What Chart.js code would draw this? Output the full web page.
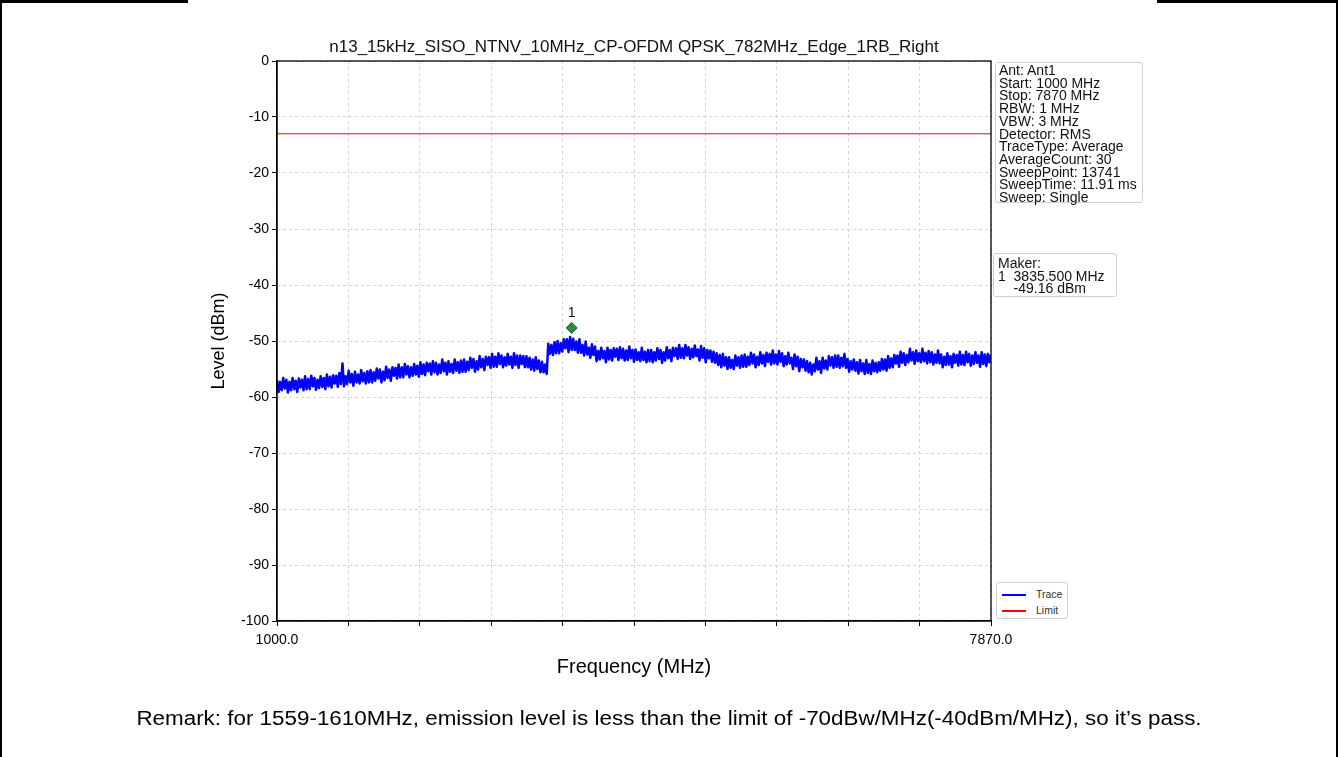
<!DOCTYPE html>
<html><head><meta charset="utf-8">
<script src="https://cdn.jsdelivr.net/npm/chart.js@4.4.0/dist/chart.umd.min.js"></script>
<style>
html,body{margin:0;padding:0;background:#fff;width:1338px;height:757px;overflow:hidden;font-family:"Liberation Sans",Arial,sans-serif;}
#wrap{position:relative;width:1338px;height:757px;}
#c{position:absolute;left:0;top:0;}
.bline{position:absolute;background:#000;}
.box{position:absolute;background:#fff;border:1px solid #cfcfcf;border-radius:3px;box-sizing:border-box;color:#111;}
#info{left:995px;top:62px;width:148px;height:141px;padding:1px 0 0 3px;font-size:14px;line-height:12.7px;}
#maker{left:993px;top:253px;width:124px;height:44px;padding:3px 0 0 4px;font-size:14px;line-height:12.7px;white-space:pre;}
#legend{left:996px;top:582px;width:72px;height:37px;font-size:10.5px;}
#legend .it{position:absolute;left:0;height:14px;}
#legend .ln{position:absolute;left:5px;width:24px;}
#legend .tx{position:absolute;left:39px;top:-6px;line-height:12px;color:#333;}
#remark{position:absolute;left:0;width:1338px;top:707px;text-align:center;font-size:20px;color:#000;transform:scaleX(1.12);transform-origin:669px 0;white-space:nowrap;}
</style></head>
<body><div id="wrap">
<canvas id="c" width="1338" height="757"></canvas>
<div class="bline" style="left:0;top:0;width:188px;height:3px"></div>
<div class="bline" style="left:1157px;top:0;width:181px;height:3px"></div>
<div class="bline" style="left:0;top:0;width:2px;height:757px"></div>
<div class="bline" style="left:1336px;top:0;width:2px;height:757px"></div>
<div class="box" id="info">Ant: Ant1<br>Start: 1000 MHz<br>Stop: 7870 MHz<br>RBW: 1 MHz<br>VBW: 3 MHz<br>Detector: RMS<br>TraceType: Average<br>AverageCount: 30<br>SweepPoint: 13741<br>SweepTime: 11.91 ms<br>Sweep: Single</div>
<div class="box" id="maker">Maker:
1  3835.500 MHz
    -49.16 dBm</div>
<div class="box" id="legend">
  <div class="it" style="top:11px"><div class="ln" style="top:0;height:2px;background:#0000ff"></div><div class="tx">Trace</div></div>
  <div class="it" style="top:27px"><div class="ln" style="top:0;height:1.5px;background:#ff0000"></div><div class="tx">Limit</div></div>
</div>
<div id="remark">Remark: for 1559-1610MHz, emission level is less than the limit of -70dBw/MHz(-40dBm/MHz), so it’s pass.</div>
</div>
<script>
// ---- data ----
const chartTitle = 'n13_15kHz_SISO_NTNV_10MHz_CP-OFDM QPSK_782MHz_Edge_1RB_Right';
const traceStartMHz = 1000;
const traceStepMHz = 15;
const traceLevels = [
 -56.9,-59.1,-57.3,-58.8,-56.6,-58.5,-56.9,-59.2,-57.3,-58.8,
 -56.6,-58.6,-57.1,-59.1,-56.7,-58.3,-56.9,-58.8,-56.3,-58.6,
 -56.8,-58.6,-56.2,-58.1,-56.6,-58.7,-56.9,-58.4,-56.3,-58.2,
 -56.6,-58.6,-56.0,-58.1,-56.4,-58.3,-56.1,-57.6,-56.2,-58.2,
 -55.7,-57.7,-54.0,-58.1,-56.3,-57.7,-55.3,-57.4,-55.9,-58.0,
 -55.5,-57.4,-56.0,-57.6,-55.2,-57.2,-55.7,-57.6,-55.4,-57.4,
 -55.2,-57.4,-55.6,-57.1,-54.9,-56.7,-55.1,-57.4,-55.5,-57.0,
 -54.6,-56.6,-55.1,-57.1,-54.7,-56.2,-54.8,-56.7,-54.2,-56.5,
 -54.7,-56.5,-54.1,-56.0,-54.5,-56.5,-54.7,-56.2,-54.1,-56.0,
 -54.4,-56.4,-53.8,-55.9,-54.2,-56.1,-53.9,-55.4,-54.0,-56.0,
 -53.6,-55.6,-53.9,-56.0,-54.2,-55.7,-53.3,-55.4,-53.9,-56.0,
 -53.6,-55.5,-54.1,-55.7,-53.3,-55.3,-53.8,-55.7,-53.5,-55.5,
 -53.3,-55.5,-53.7,-55.2,-53.0,-54.8,-53.2,-55.5,-53.6,-55.1,
 -52.7,-54.7,-53.2,-55.2,-52.8,-54.3,-52.9,-54.8,-52.3,-54.6,
 -52.8,-54.6,-52.2,-54.1,-52.6,-54.7,-52.9,-54.4,-52.3,-54.2,
 -52.8,-54.8,-52.2,-54.3,-52.6,-54.8,-52.6,-54.1,-52.7,-54.7,
 -52.7,-54.7,-53.0,-55.1,-53.3,-55.3,-52.9,-55.0,-53.5,-55.6,
 -53.7,-55.6,-54.2,-55.9,-50.5,-52.3,-50.7,-52.5,-50.2,-52.2,
 -50.0,-52.2,-50.4,-51.9,-49.7,-51.3,-49.7,-52.0,-49.3,-51.6,
 -49.6,-51.6,-50.1,-52.1,-49.7,-52.1,-50.7,-52.6,-50.1,-52.4,
 -51.2,-53.0,-50.6,-52.5,-51.0,-53.6,-51.8,-53.3,-51.2,-53.1,
 -51.8,-53.8,-51.2,-53.3,-51.6,-53.5,-51.3,-52.8,-51.4,-53.4,
 -51.1,-53.1,-51.4,-53.5,-51.7,-53.4,-51.0,-53.1,-51.6,-53.7,
 -51.5,-53.4,-52.0,-53.6,-51.2,-53.4,-51.9,-53.8,-51.6,-53.6,
 -51.6,-53.8,-52.0,-53.5,-51.3,-53.2,-51.6,-53.9,-52.0,-53.5,
 -51.1,-53.1,-51.6,-53.6,-51.2,-52.7,-51.3,-53.2,-50.7,-53.0,
 -51.3,-53.1,-50.7,-52.6,-51.1,-53.2,-51.4,-52.9,-50.8,-52.7,
 -51.5,-53.5,-50.9,-53.0,-51.3,-53.8,-51.6,-53.1,-51.7,-53.7,
 -51.9,-53.9,-52.2,-54.3,-52.5,-54.7,-52.3,-54.4,-52.9,-55.0,
 -52.9,-54.8,-53.4,-55.0,-52.6,-54.4,-52.9,-54.8,-52.6,-54.6,
 -52.4,-54.6,-52.8,-54.3,-52.1,-54.0,-52.4,-54.7,-52.8,-54.3,
 -52.0,-54.0,-52.5,-54.5,-52.1,-53.7,-52.3,-54.2,-51.7,-54.0,
 -52.4,-54.2,-51.8,-53.7,-52.2,-54.5,-52.7,-54.2,-52.1,-54.0,
 -53.0,-55.0,-52.4,-54.5,-52.8,-55.4,-53.2,-54.7,-53.3,-55.3,
 -53.6,-55.6,-53.9,-56.0,-54.2,-55.4,-53.0,-55.1,-53.6,-55.7,
 -53.0,-54.9,-53.5,-55.1,-52.7,-54.4,-52.9,-54.8,-52.6,-54.6,
 -52.6,-54.8,-53.0,-54.5,-52.3,-54.8,-53.2,-55.5,-53.6,-55.1,
 -53.3,-55.3,-53.8,-55.8,-53.4,-55.4,-54.0,-55.9,-53.4,-55.7,
 -54.1,-55.9,-53.5,-55.4,-53.9,-55.6,-53.8,-55.3,-53.2,-55.1,
 -53.3,-55.3,-52.7,-54.8,-53.1,-54.7,-52.5,-54.0,-52.6,-54.6,
 -51.9,-53.9,-52.2,-54.3,-52.5,-53.8,-51.4,-53.5,-52.0,-54.1,
 -51.7,-53.6,-52.2,-53.8,-51.4,-53.6,-52.1,-54.0,-51.8,-53.8,
 -52.0,-54.2,-52.4,-53.9,-51.7,-54.0,-52.4,-54.7,-52.8,-54.3,
 -52.2,-54.2,-52.7,-54.7,-52.3,-53.9,-52.5,-54.4,-51.9,-54.2,
 -52.5,-54.3,-51.9,-53.8,-52.3,-54.4,-52.6,-54.1,-52.0,-53.9,
 -52.6,-54.6,-52.0,-54.1,-52.4,-54.5,-52.3,-53.8,-52.4
];
const limitFreqs = [1000, 7870];
const limitLevels = [-13, -13];
const markerFreqs = [3835.5];
const markerLevels = [-49.16];
const markerNames = ['1'];
const xTickValues = [1000,1687,2374,3061,3748,4435,5122,5809,6496,7183,7870];
const xTickLabels = ['1000.0','','','','','','','','','','7870.0'];
const yTickValues = [0,-10,-20,-30,-40,-50,-60,-70,-80,-90,-100];

// ---- build ----
const traceFreqs = traceLevels.map((_, i) => traceStartMHz + i * traceStepMHz);
const tracePts = traceLevels.map((v, i) => ({x: traceFreqs[i], y: v}));
const limitPts = limitLevels.map((v, i) => ({x: limitFreqs[i], y: v}));
const markerLift = 1.5;
const markerPts = markerLevels.map((v, i) => ({x: markerFreqs[i], y: v + markerLift}));

const FONT = '"Liberation Sans", Arial, sans-serif';
Chart.defaults.font.family = FONT;
Chart.defaults.color = '#000';

const framePlugin = {
  id: 'frame',
  afterDraw(chart) {
    const {ctx, chartArea: a} = chart;
    ctx.save();
    ctx.fillStyle = '#111';
    ctx.font = '17px ' + FONT;
    ctx.textAlign = 'center';
    ctx.textBaseline = 'middle';
    ctx.fillText(chartTitle, (a.left + a.right) / 2, 47);
    ctx.restore();
  },
  afterDatasetsDraw(chart) {
    const {ctx, chartArea: a, scales} = chart;
    ctx.save();
    ctx.strokeStyle = '#000';
    ctx.lineWidth = 1.3;
    ctx.strokeRect(a.left, a.top, a.right - a.left, a.bottom - a.top);
    ctx.fillStyle = '#111';
    ctx.font = '14px ' + FONT;
    ctx.textAlign = 'center';
    ctx.textBaseline = 'middle';
    markerPts.forEach((p, i) => {
      ctx.fillText(markerNames[i], scales.x.getPixelForValue(p.x), scales.y.getPixelForValue(p.y) - 15);
    });
    ctx.restore();
  }
};

new Chart(document.getElementById('c'), {
  type: 'line',
  data: {
    datasets: [
      {label: 'Trace', data: tracePts, borderColor: '#0000ff', borderWidth: 2.5, borderJoinStyle: 'round',
       pointRadius: 0, tension: 0, order: 3},
      {label: 'Limit', data: limitPts, borderColor: '#ff0000', borderWidth: 1, pointRadius: 0, order: 2},
      {label: 'Marker', data: markerPts, showLine: false, pointStyle: 'rectRot', pointRadius: 5.5,
       backgroundColor: '#2e8b3e', borderColor: '#1f5f2a', borderWidth: 1, order: 1}
    ]
  },
  options: {
    responsive: false,
    animation: false,
    layout: {padding: {left: 200, right: 347, top: 61, bottom: 67}},
    plugins: {
      legend: {display: false},
      tooltip: {enabled: false},
      title: {display: false}
    },
    scales: {
      x: {
        type: 'linear', min: 1000, max: 7870,
        afterFit(s) { s.height = 69; },
        afterBuildTicks(s) { s.ticks = xTickValues.map(v => ({value: v})); },
        ticks: {autoSkip: false, maxRotation: 0, padding: 6, font: {size: 14},
                callback: (v, i) => xTickLabels[i]},
        grid: {color: '#d4d4d4', lineWidth: 1, tickColor: '#000', tickLength: 5},
        border: {display: true, color: '#000', width: 1.3, dash: [3, 3]},
        title: {display: true, text: 'Frequency (MHz)', font: {size: 20}, padding: {top: 0, bottom: 11}}
      },
      y: {
        min: -100, max: 0,
        afterFit(s) { s.width = 77; },
        afterBuildTicks(s) { s.ticks = yTickValues.map(v => ({value: v})); },
        ticks: {padding: 3, font: {size: 14}},
        grid: {color: '#d4d4d4', lineWidth: 1, tickColor: '#000', tickLength: 5},
        border: {display: true, color: '#000', width: 1.3, dash: [3, 3]},
        title: {display: true, text: 'Level (dBm)', font: {size: 18}, padding: {top: 8, bottom: 0}}
      }
    }
  },
  plugins: [framePlugin]
});
</script>
</body></html>
